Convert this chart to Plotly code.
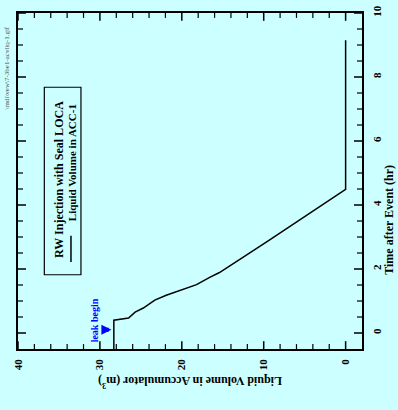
import numpy as np
import plotly.graph_objects as go

# Accumulator ACC-1 liquid inventory during RW injection with seal LOCA
time_hr = [-0.5, 0.40, 0.47, 0.65, 0.78, 1.03, 1.18, 1.31, 1.51, 1.74, 1.89, 2.87, 4.49, 9.15]
volume_m3 = [28.3, 28.3, 26.5, 25.7, 24.7, 23.3, 21.9, 20.45, 18.2, 16.6, 15.4, 9.5, 0.0, 0.0]

volume_ticks = [0, 10, 20, 30, 40]
time_ticks = [0, 2, 4, 6, 8, 10]
volume_minor = [v for v in np.arange(0, 40.01, 2) if v not in volume_ticks]
time_minor = [t for t in np.arange(0, 10.01, 0.5) if t not in time_ticks]

leak_time = 0.1

BG = "#ccffff"
SERIF = "Liberation Serif"

fig = go.Figure()
fig.add_trace(go.Scatter(
    x=volume_m3, y=time_hr, mode="lines",
    line=dict(color="black", width=1.5),
    showlegend=False, hoverinfo="skip",
))

axis_common = dict(
    tickmode="array", ticks="",
    showline=True, linecolor="black", linewidth=1.5, mirror=True,
    showgrid=False, zeroline=False, tickangle=-90, ticklabeloverflow="allow",
    tickfont=dict(family=SERIF, size=11, color="black", weight="bold"),
)

fig.update_xaxes(range=[40, -2], tickvals=volume_ticks, ticklabelstandoff=4, **axis_common)
fig.update_yaxes(range=[-0.5, 10], tickvals=time_ticks, side="right",
                 ticklabelstandoff=4, **axis_common)

# inward tick marks on all four sides of the frame
MAJOR_LEN = 8 / 344
MINOR_LEN = 5 / 344
shapes = []
for vals, length, width in ((volume_ticks, MAJOR_LEN, 1.5), (volume_minor, MINOR_LEN, 1.2)):
    for v in vals:
        for y0, y1 in ((0, length), (1 - length, 1)):
            shapes.append(dict(type="line", xref="x", yref="paper", x0=v, x1=v,
                               y0=y0, y1=y1, line=dict(color="black", width=width)))
for vals, length, width in ((time_ticks, MAJOR_LEN, 1.5), (time_minor, MINOR_LEN, 1.2)):
    for t in vals:
        for x0, x1 in ((0, length), (1 - length, 1)):
            shapes.append(dict(type="line", xref="paper", yref="y", x0=x0, x1=x1,
                               y0=t, y1=t, line=dict(color="black", width=width)))

# legend frame and line sample
shapes += [
    dict(type="rect", xref="paper", yref="paper",
         x0=0.0765, x1=0.183, y0=0.221, y1=0.779,
         line=dict(color="black", width=1.2), fillcolor=BG),
    dict(type="line", xref="paper", yref="paper",
         x0=0.154, x1=0.154, y0=0.259, y1=0.337,
         line=dict(color="black", width=1.5)),
]


def rotated(text, x, y, angle, size, color="black", bold=True, ref="paper"):
    font = dict(family=SERIF, size=size, color=color)
    if bold:
        font["weight"] = "bold"
    return dict(text=text, xref=ref, yref=ref if ref == "paper" else "y",
                x=x, y=y, textangle=angle, showarrow=False,
                xanchor="center", yanchor="middle", font=font)


annotations = [
    # axis titles
    rotated("Time after Event (hr)", 1.078, 0.384, -90, 12),
    rotated("Liquid Volume in Accumulator (m<sup>3</sup>)", 0.5, -0.099, 180, 12),
    # legend box contents
    rotated("RW Injection with Seal LOCA", 0.117, 0.504, -90, 12),
    rotated("Liquid Volume in ACC-1", 0.156, 0.555, -90, 11),
    # leak marker
    rotated("leak begin", 30.7, 0.4, -90, 10, color="blue", ref="x"),
    dict(text="", xref="x", yref="y", axref="x", ayref="y",
         x=28.6, y=leak_time, ax=29.9, ay=leak_time, showarrow=True,
         arrowhead=2, arrowsize=0.5, arrowwidth=4, arrowcolor="blue"),
    # file tag
    rotated("\\mdi\\vew\\7-3be1-acvliq-1.gif", -0.033, 0.837, -90, 7,
            color="#555555", bold=False),
]

fig.update_layout(
    width=398, height=410,
    margin=dict(l=18, r=36, t=5, b=61),
    paper_bgcolor=BG, plot_bgcolor="rgba(0,0,0,0)",
    annotations=annotations, shapes=shapes,
    showlegend=False,
)

fig.write_html("out.html")
